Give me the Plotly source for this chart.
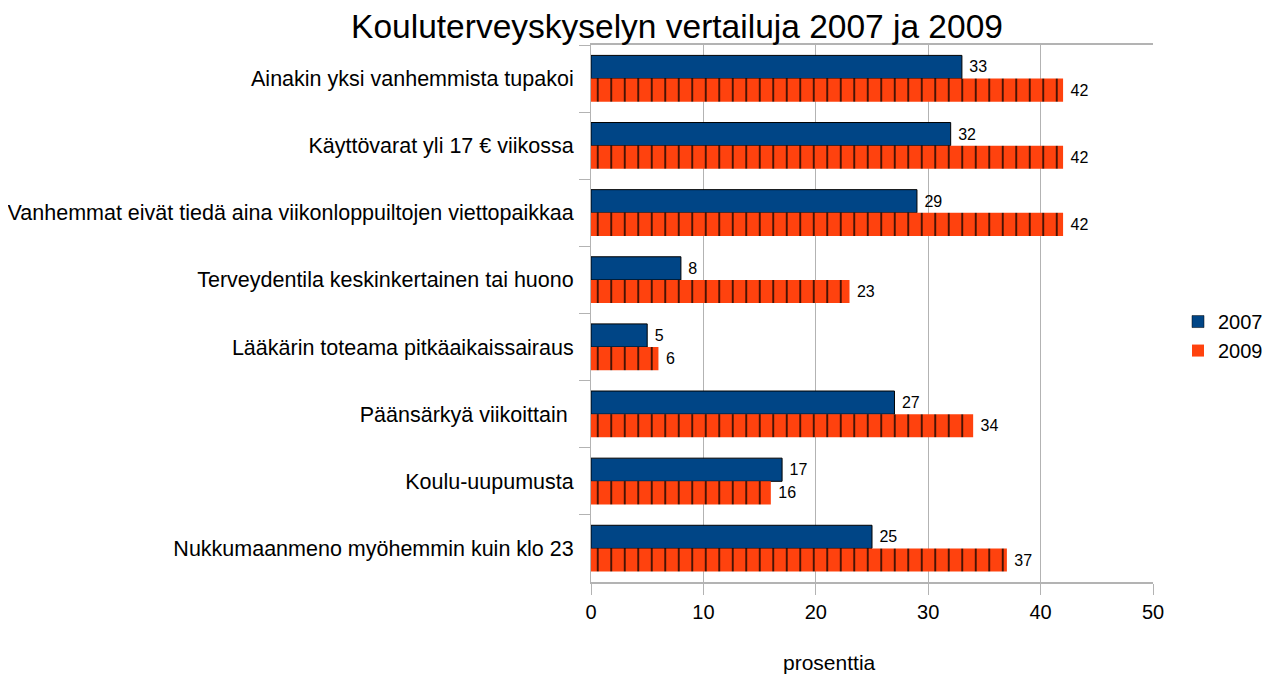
import plotly.graph_objects as go

categories = [
    "Ainakin yksi vanhemmista tupakoi",
    "Käyttövarat yli 17 € viikossa",
    "Vanhemmat eivät tiedä aina viikonloppuiltojen viettopaikkaa",
    "Terveydentila keskinkertainen tai huono",
    "Lääkärin toteama pitkäaikaissairaus",
    "Päänsärkyä viikoittain ",
    "Koulu-uupumusta",
    "Nukkumaanmeno myöhemmin kuin klo 23",
]
values_2007 = [33, 32, 29, 8, 5, 27, 17, 25]
values_2009 = [42, 42, 42, 23, 6, 34, 16, 37]
series_names = ["2007", "2009"]
series_colors = ["#004586", "#ff420e"]
x_ticks = [0, 10, 20, 30, 40, 50]

FONT = "Liberation Sans, Arial, sans-serif"
# page body has an 8px default margin, so the figure is drawn 8px smaller
OFF = 8
W, H = 1276 - OFF, 675 - OFF

fig = go.Figure()
fig.add_trace(go.Bar(
    y=categories, x=values_2007, orientation="h", name=series_names[0],
    offsetgroup="a",
    marker=dict(color=series_colors[0], line=dict(color="#000000", width=1)),
    text=values_2007, texttemplate=" %{x}", textposition="outside", constraintext="none",
    textfont=dict(size=16, color="#000000", family=FONT),
    cliponaxis=False, showlegend=False,
))
fig.add_trace(go.Bar(
    y=categories, x=values_2009, orientation="h", name=series_names[1],
    offsetgroup="b",
    marker=dict(color=series_colors[1], line=dict(color="#000000", width=0),
                pattern=dict(shape="|", size=13.5, solidity=0.12,
                             fgcolor="#000000", fgopacity=0.85)),
    text=values_2009, texttemplate=" %{x}", textposition="outside", constraintext="none",
    textfont=dict(size=16, color="#000000", family=FONT),
    cliponaxis=False, showlegend=False,
))
# legend entries (plain squares, as in the reference)
for nm, col, grp in zip(series_names, series_colors, ["a", "b"]):
    fig.add_trace(go.Bar(
        y=[None], x=[None], orientation="h", name=nm, offsetgroup=grp,
        marker=dict(color=col, line=dict(color="#000000", width=0.5 if nm == "2007" else 0)),
        showlegend=True, hoverinfo="skip",
    ))

fig.update_layout(
    width=W, height=H,
    margin=dict(l=591 - OFF, r=1276 - 1153, t=45 - OFF, b=675 - 582, autoexpand=False),
    paper_bgcolor="white", plot_bgcolor="white",
    barmode="group", bargap=0.31, bargroupgap=0,
    font=dict(family=FONT, color="#000000"),
    title=dict(text="Kouluterveyskyselyn vertailuja 2007 ja 2009",
               x=(677 - OFF) / W, xanchor="center", xref="container",
               y=1 - 7 / H, yanchor="top", yref="container",
               font=dict(size=33.5, family=FONT, color="#000000")),
    showlegend=True,
    legend=dict(x=(1178 - 591) / 562, y=0.458, xanchor="left", yanchor="middle",
                traceorder="normal", font=dict(size=20, family=FONT),
                itemwidth=30, bgcolor="rgba(0,0,0,0)", tracegroupgap=0,
                borderwidth=0),
    annotations=[dict(text="prosenttia", xref="paper", yref="paper",
                      x=(829 - 591) / 562, y=-(662 - 582) / 537, xanchor="center",
                      yanchor="middle", showarrow=False,
                      font=dict(size=21, family=FONT, color="#000000"))],
)
fig.update_xaxes(
    range=[0, 50], tickvals=x_ticks, ticktext=[str(v) for v in x_ticks],
    showgrid=True, gridcolor="#b3b3b3", gridwidth=1,
    showline=True, linecolor="#b3b3b3", linewidth=2, mirror=True,
    ticks="outside", ticklen=11, tickcolor="#b3b3b3", tickwidth=1,
    tickfont=dict(size=20, family=FONT, color="#000000"),
    zeroline=False, automargin=False,
)
fig.update_yaxes(
    autorange="reversed", type="category",
    showgrid=False, showline=True, linecolor="#b3b3b3", linewidth=1,
    ticks="outside", ticklen=11, tickcolor="#b3b3b3", tickwidth=1,
    tickson="boundaries", ticklabelstandoff=12,
    tickfont=dict(size=21.5, family=FONT, color="#000000"),
    automargin=False,
)

fig.write_html("out.html")
